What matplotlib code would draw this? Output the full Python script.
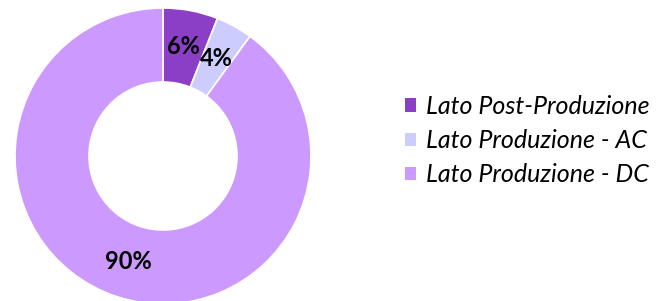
import matplotlib
matplotlib.use("Agg")
import matplotlib.pyplot as plt

labels = ["Lato Post-Produzione", "Lato Produzione - AC", "Lato Produzione - DC"]
values = [6, 4, 90]
colors = ["#8B3FC6", "#CCCCFF", "#CC99FF"]

W, H = 658, 301
fig = plt.figure(figsize=(W / 100, H / 100), dpi=100)
ax = fig.add_axes([0, 0, 1, 1])

wedges, texts, autotexts = ax.pie(
    values, colors=colors, startangle=90, counterclock=False,
    center=(163, H - 156), radius=148,
    wedgeprops=dict(width=74, edgecolor="white", linewidth=1.2),
    autopct=lambda p: f"{p:.0f}%", pctdistance=0.75,
    textprops=dict(fontsize=17, fontweight="bold", family="Lato", color="black"),
    frame=True,
)
ax.set_xlim(0, W)
ax.set_ylim(0, H)
ax.set_aspect("equal")
ax.axis("off")

leg = ax.legend(
    wedges, labels, loc="upper left", bbox_to_anchor=(395 / W, 1 - 85 / H),
    frameon=False, handlelength=0.45, handleheight=0.45, handletextpad=0.4,
    labelspacing=0.45, borderaxespad=0,
    prop=dict(family="Lato", style="italic", size=18),
)
for h in leg.legend_handles:
    h.set_edgecolor("none")

fig.savefig("out.png", dpi=100)
